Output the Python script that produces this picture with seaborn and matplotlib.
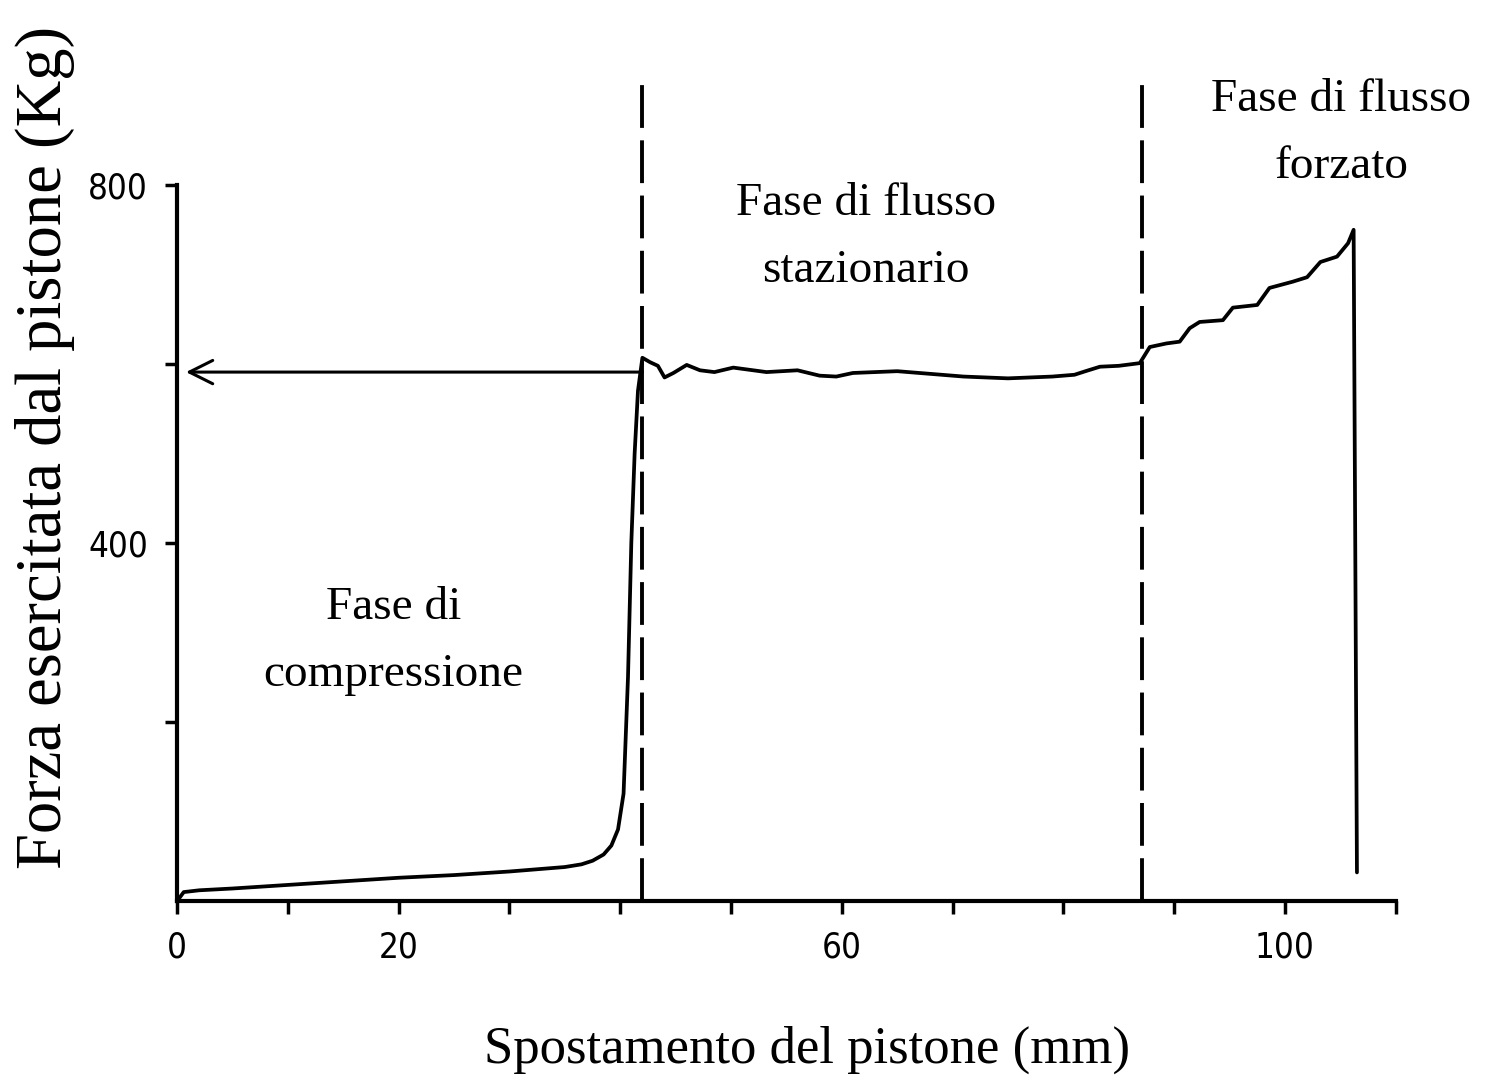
import matplotlib
matplotlib.use("Agg")
import matplotlib.pyplot as plt
import seaborn as sns
import pandas as pd
from matplotlib import font_manager
from matplotlib.font_manager import FontProperties

# ---- data ----
comp_x = [0, 0.6, 2, 5, 10, 15, 20, 25, 30, 33, 35, 36.5, 37.5, 38.5, 39.2, 39.8, 40.3, 40.7, 41.0, 41.3, 41.6, 42.0]
comp_y = [0, 10, 12, 14, 18, 22, 26, 29, 33, 36, 38, 41, 45, 52, 62, 80, 120, 250, 400, 500, 570, 607]
stat_x = [42.7, 43.4, 44.0, 44.8, 46.0, 47.2, 48.5, 50.2, 53.2, 56, 58, 59.5, 61, 63, 65, 67, 69, 71, 73, 75, 77, 79, 81, 82, 83.3, 85, 86.9]
stat_y = [602, 598, 585, 590, 599, 593, 591, 596, 591, 593, 587, 586, 590, 591, 592, 590, 588, 586, 585, 584, 585, 586, 588, 592, 597, 598, 601]
forz_x = [87.8, 89.3, 90.5, 91.4, 92.3, 94.4, 95.3, 97.5, 98.6, 100.7, 102.0, 103.2, 104.7, 105.7, 106.2, 106.5]
forz_y = [619, 623, 625, 640, 647, 649, 663, 666, 685, 692, 697, 714, 720, 735, 750, 32]

phase_bounds = [42.0, 87.1]
plateau_force = 591
x_ticks = [0, 10, 20, 30, 40, 50, 60, 70, 80, 90, 100, 110]
x_labels = ["0", "", "20", "", "", "", "60", "", "", "", "100", ""]
y_ticks = [200, 400, 600, 800]
y_labels = ["", "400", "", "800"]
phase_labels = ["Fase di\ncompressione", "Fase di flusso\nstazionario", "Fase di flusso\nforzato"]
phase_pos = [(19.5, 290), (62.2, 742), (105.1, 858)]
xlabel = "Spostamento del pistone (mm)"
ylabel = "Forza esercitata dal pistone (Kg)"

df = pd.DataFrame({"x": comp_x + stat_x + forz_x, "y": comp_y + stat_y + forz_y})

sns.set_theme(style="white")
plt.rcParams["font.family"] = ["Liberation Serif", "DejaVu Serif"]
plt.rcParams["text.color"] = "black"
plt.rcParams["xtick.color"] = "black"
plt.rcParams["ytick.color"] = "black"

# pick a narrow sans font for tick labels if one is installed
narrow = None
for f in font_manager.fontManager.ttflist:
    nm = f.name
    if ("Narrow" in nm or "Condensed" in nm or str(f.stretch) in ("condensed", "semi-condensed", "extra-condensed")) \
            and "Sans" in nm and f.style == "normal" and f.weight in (400, "normal", "regular"):
        narrow = f.fname
        break
if narrow:
    tick_fp = FontProperties(fname=narrow, size=25)
else:
    tick_fp = FontProperties(family="DejaVu Sans", size=21)

fig = plt.figure(figsize=(14.85, 10.86), dpi=100)
ax = fig.add_axes([0.1118, 0.1662, 0.843, 0.7582])

sns.lineplot(data=df, x="x", y="y", sort=False, estimator=None, color="black",
             linewidth=2.7, ax=ax, clip_on=False)

ax.set_xlim(-1, 112)
ax.set_ylim(-5, 915)

for xb, top in zip(phase_bounds, [915, 925]):
    ax.plot([xb, xb], [0, top], color="black", linewidth=2.8, dashes=(11, 3.2), clip_on=False)

ax.annotate("", xy=(0.8, plateau_force), xytext=(phase_bounds[0], plateau_force),
            arrowprops=dict(arrowstyle="->", color="black", lw=2.2, mutation_scale=42,
                            shrinkA=0, shrinkB=0))

for lab, (px, py) in zip(phase_labels, phase_pos):
    ax.text(px, py, lab, ha="center", va="center", fontsize=34, linespacing=1.75,
            color="black")

for s in ["top", "right"]:
    ax.spines[s].set_visible(False)
ax.spines["left"].set_position(("data", 0))
ax.spines["bottom"].set_position(("data", 0))
ax.spines["left"].set_bounds(0, 800)
ax.spines["bottom"].set_bounds(0, 110)
for s in ["left", "bottom"]:
    ax.spines[s].set_color("black")
    ax.spines[s].set_linewidth(3)

ax.set_xticks(x_ticks)
ax.set_xticklabels(x_labels, fontproperties=tick_fp, color="black")
ax.set_yticks(y_ticks)
ax.set_yticklabels(y_labels, fontproperties=tick_fp, color="black")
ax.tick_params(axis="both", direction="out", length=9, width=2.5, color="black",
               pad=12, bottom=True, left=True)
ax.set_xlabel("")
ax.set_ylabel("")

fig.text(0.5434, 1 - 1050 / 1086, xlabel, ha="center", va="center", fontsize=38, color="black")
fig.text(45 / 1485, 1 - 447 / 1086, ylabel, ha="center", va="center", fontsize=46.5,
         rotation=90, color="black")

fig.savefig("out.png", dpi=100, facecolor="white")
